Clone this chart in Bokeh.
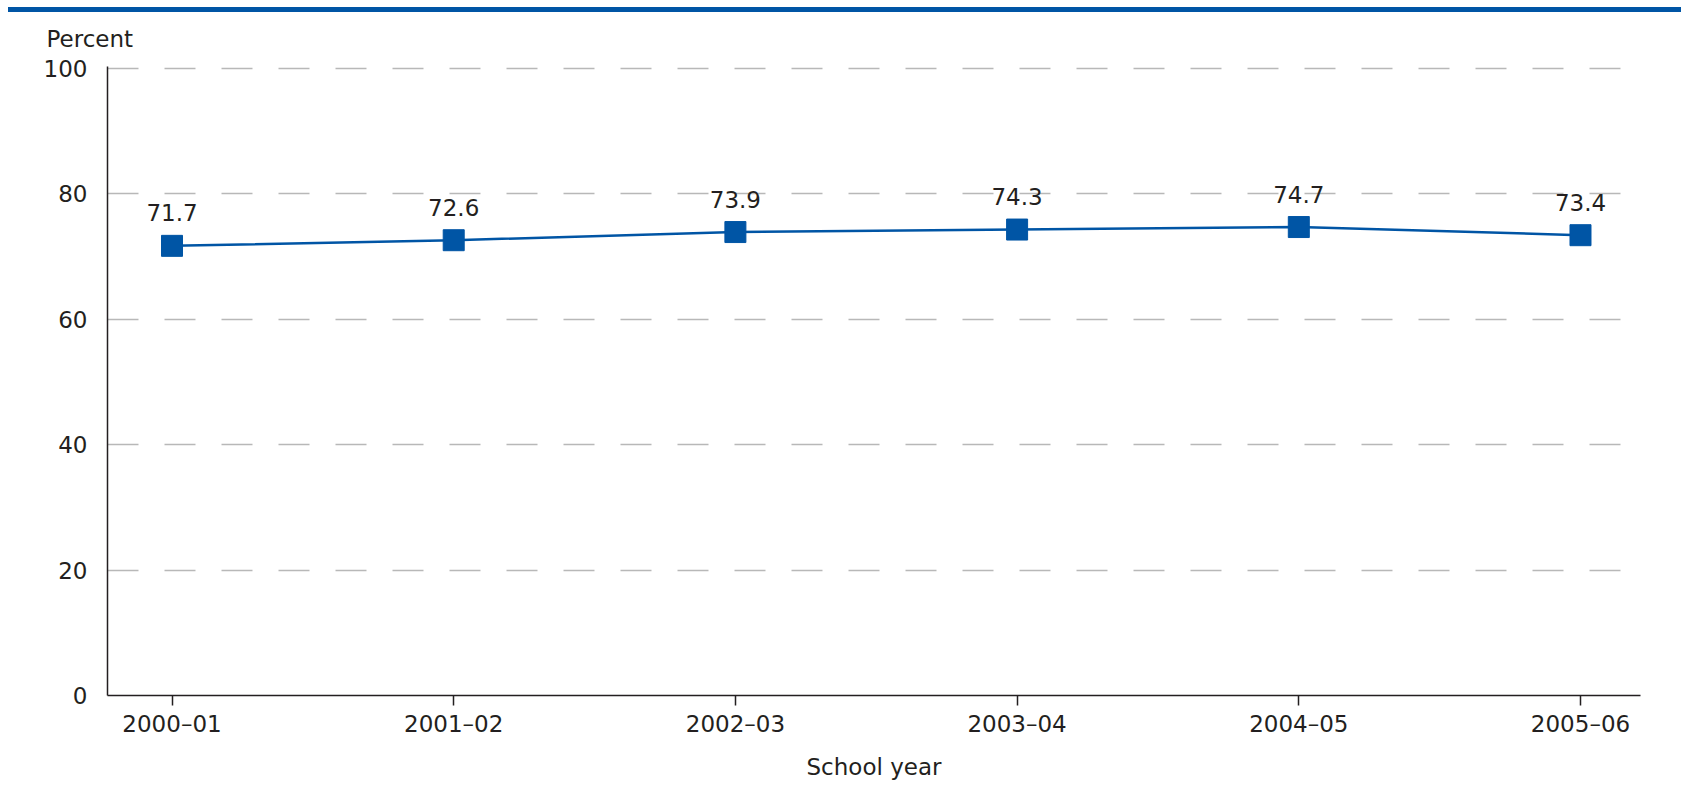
from bokeh.plotting import figure
from bokeh.models import (ColumnDataSource, Range1d, FixedTicker, LabelSet, Div)
from bokeh.layouts import column
from bokeh.core.properties import value
from bokeh.embed import file_html
from bokeh.resources import INLINE

# ---- data ----
school_years = ["2000–01", "2001–02", "2002–03", "2003–04", "2004–05", "2005–06"]
percent = [71.7, 72.6, 73.9, 74.3, 74.7, 73.4]
y_ticks = [0, 20, 40, 60, 80, 100]
y_title = "Percent"
x_title = "School year"

FONT = "DejaVu Sans"
FS = "23px"
TEXT = "#231f20"
BLUE = "#0055a5"

xs = list(range(len(school_years)))
src = ColumnDataSource(dict(x=xs, y=percent, lab=[f"{v:.1f}" for v in percent]))

X0, X1, Y1 = -0.229, 5.213, 100.3
p = figure(frame_width=1533, frame_height=629, output_backend="svg", toolbar_location=None,
           x_range=Range1d(X0, X1), y_range=Range1d(0, Y1),
           min_border_left=99, min_border_right=33, min_border_top=54, min_border_bottom=80)
p.outline_line_color = None
p.background_fill_color = "white"
p.border_fill_color = "white"

# "Percent" above the y axis
p.title.text = y_title
p.title.align = "left"
p.title.vertical_align = "top"
p.title.offset = -61
p.title.standoff = 26
p.title.text_font = FONT
p.title.text_font_size = FS
p.title.text_font_style = "normal"
p.title.text_color = TEXT

# grid
p.xgrid.grid_line_color = None
p.ygrid.grid_line_color = "#b8b8b8"
p.ygrid.grid_line_width = 1.5
p.ygrid.grid_line_dash = "31 26"

# y axis
p.yaxis.ticker = FixedTicker(ticks=y_ticks)
p.yaxis.major_tick_out = 0
p.yaxis.major_tick_in = 0
p.yaxis.minor_tick_out = 0
p.yaxis.minor_tick_in = 0
p.yaxis.major_label_standoff = 20
p.yaxis.axis_line_color = TEXT
p.yaxis.axis_line_width = 1.5

# x axis
p.xaxis.ticker = FixedTicker(ticks=xs)
p.xaxis.major_label_overrides = {i: s for i, s in zip(xs, school_years)}
p.xaxis.major_tick_out = 10
p.xaxis.major_tick_in = 0
p.xaxis.minor_tick_out = 0
p.xaxis.minor_tick_in = 0
p.xaxis.major_tick_line_color = TEXT
p.xaxis.major_tick_line_width = 1.5
p.xaxis.major_label_standoff = 5
p.xaxis.axis_line_color = TEXT
p.xaxis.axis_line_width = 1.5
p.xaxis.axis_label = x_title
p.xaxis.axis_label_standoff = 14
p.xaxis.axis_label_text_font = FONT
p.xaxis.axis_label_text_font_size = FS
p.xaxis.axis_label_text_font_style = "normal"
p.xaxis.axis_label_text_color = TEXT

for ax in (p.xaxis, p.yaxis):
    ax.major_label_text_font = FONT
    ax.major_label_text_font_size = FS
    ax.major_label_text_color = TEXT

p.line("x", "y", source=src, line_color=BLUE, line_width=2.5)
p.scatter("x", "y", source=src, marker="square", size=21, fill_color=BLUE, line_color=BLUE)

labels = LabelSet(x="x", y="y", text="lab", source=src, y_offset=33,
                  text_align="center", text_baseline="middle",
                  text_font=value(FONT), text_font_size=value(FS), text_color=TEXT)
p.add_layout(labels)

bar = Div(text="", width=1673, height=5, margin=(0, 0, 0, 0),
          styles={"background-color": BLUE})

layout = column(bar, p, spacing=0, margin=(7, 0, 0, 8))

open("out.html", "w").write(file_html(layout, INLINE))
